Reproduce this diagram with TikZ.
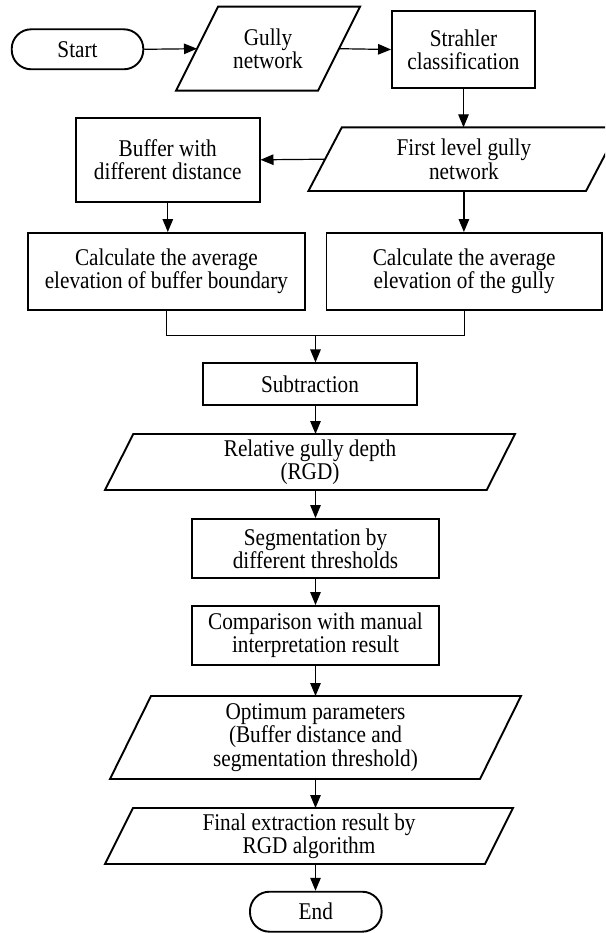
\documentclass[tikz,border=0pt]{standalone}
\usepackage{fontspec}
\setmainfont[FakeStretch=0.885]{Liberation Serif}
\usetikzlibrary{arrows.meta,calc}
\newcommand\drawpara[2]{\draw[border] ([xshift=#2]#1.north west) -- (#1.north east) -- ([xshift=-#2]#1.south east) -- (#1.south west) -- cycle;}
\begin{document}
\begin{tikzpicture}[x=1pt,y=-1pt,
  base/.style={rectangle, inner sep=0pt, align=center, font=\fontsize{24}{23.4}\selectfont},
  proc/.style={base, draw, line width=1.9pt},
  term/.style={base, draw, line width=1.9pt, rounded corners=19.5pt},
  io/.style={base, outer sep=0pt},
  border/.style={line width=1.9pt, line join=miter},
  conn/.style={line width=1.2pt},
  arr/.style={conn, -{Triangle[length=13pt,width=10.5pt]}}]
\useasboundingbox (0,0) rectangle (605,933);
\clip (0,0) rectangle (605,933);
\fill[white] (0,0) rectangle (605,933);
\coordinate (axis) at (315.5,0);
% nodes
\node[term, minimum width=131.6pt, minimum height=40pt] (start) at (77.5,49.3) {Start};
\node[io, minimum width=184pt, minimum height=84pt] (gully) at (268,48.7) {Gully\\network};
\node[proc, minimum width=143pt, minimum height=77pt] (strahler) at (463.5,49.5) {Strahler\\classification};
\node[io, minimum width=311pt, minimum height=63.7pt] (first) at (463.9,159.2) {First level gully\\network};
\node[proc, minimum width=183.5pt, minimum height=83.7pt] (buffer) at (167.8,159.8) {Buffer with\\different distance};
\node[proc, minimum width=277.2pt, minimum height=77pt] (calcL) at (166.4,271.5) {Calculate the average\\elevation of buffer boundary};
\node[proc, minimum width=275.5pt, minimum height=77pt] (calcR) at (464.2,271.5) {Calculate the average\\elevation of the gully};
\coordinate (j) at (315.5,335.7);
\node[proc, minimum width=214.6pt, minimum height=41.7pt] (sub) at (310,384.2) {Subtraction};
\node[io, minimum width=410pt, minimum height=56pt] (rgd) at (310,462) {Relative gully depth\\(RGD)};
\node[proc, minimum width=247pt, minimum height=59pt] (seg) at (315.5,548.5) {Segmentation by\\different thresholds};
\node[proc, minimum width=247pt, minimum height=59pt] (comp) at (315.5,635.5) {Comparison with manual\\interpretation result};
\node[io, minimum width=411pt, minimum height=83pt] (opt) at (315.5,737.5) {Optimum parameters\\(Buffer distance and\\segmentation threshold)};
\node[io, minimum width=408pt, minimum height=56pt] (final) at (309,836) {Final extraction result by\\RGD algorithm};
\node[term, minimum width=131.7pt, minimum height=40pt] (end) at (315.8,911.7) {End};
% parallelogram outlines
\drawpara{gully}{42pt}
\drawpara{first}{33.4pt}
\drawpara{rgd}{28.3pt}
\drawpara{opt}{41pt}
\drawpara{final}{28pt}
% connectors
\draw[arr] (start.east) -- ([xshift=21pt]gully.west);
\draw[arr] ([xshift=-21pt]gully.east) -- (strahler.west);
\draw[arr] (strahler.south) -- (strahler.south |- first.north);
\draw[arr] ([xshift=16.7pt]first.west) -- (buffer.east);
\draw[arr] (first.south) -- (first.south |- calcR.north);
\draw[arr] (buffer.south) -- (buffer.south |- calcL.north);
\draw[conn] (calcL.south) |- (j) -| (calcR.south);
\draw[arr] (j) -- (j |- sub.north);
\draw[arr] (sub.south -| axis) -- (rgd.north -| axis);
\draw[arr] (rgd.south -| axis) -- (seg.north -| axis);
\draw[arr] (seg.south -| axis) -- (comp.north -| axis);
\draw[arr] (comp.south -| axis) -- (opt.north -| axis);
\draw[arr] (opt.south -| axis) -- (final.north -| axis);
\draw[arr] (final.south -| axis) -- (end.north -| axis);
\end{tikzpicture}
\end{document}
